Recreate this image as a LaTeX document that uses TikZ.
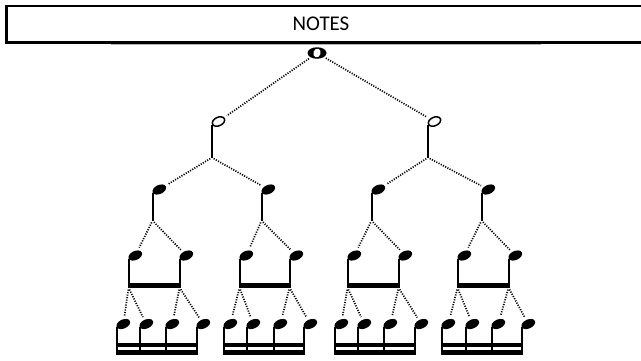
\documentclass[tikz,border=0pt]{standalone}
\usepackage{fontspec}
\newfontfamily\hdrfont{Carlito}
\usetikzlibrary{shapes.geometric}
\begin{document}
\begin{tikzpicture}[x=1bp,y=-1bp,
  head/.style={ellipse, fill=black, inner sep=0pt, minimum width=14.5bp, minimum height=9bp, rotate=25},
  hhead/.style={ellipse, draw=black, line width=1.5bp, fill=white, inner sep=0pt, minimum width=13bp, minimum height=8.5bp, rotate=25},
  stem/.style={line width=2bp},
  hstem/.style={line width=1.3bp},
  link/.style={line width=1.7bp, dash pattern=on 1.1bp off 1.4bp, shorten >=3bp, shorten <=2bp},
  titletext/.style={font=\hdrfont\fontsize{21}{24}\selectfont, inner sep=0pt}
]
\clip (0,0) rectangle (641,360);
\fill[white] (0,0) rectangle (641,360);

% header
\draw[line width=2.2bp] (6.5,6) rectangle (660,42.5);
\node[titletext] (title) at (321,24) {NOTES};
\draw[gray!60, line width=1bp] (111,44.2) -- (541,44.2);

% whole note
\node[ellipse, fill=black, inner sep=0pt, minimum width=19bp, minimum height=11.5bp] (w) at (317,53) {};
\fill[white, rotate around={-20:(w)}] (w) ellipse [x radius=3.6bp, y radius=4.4bp];

% half notes
\node[hhead] (h1) at (218.5,121.5) {};
\node[hhead] (h2) at (434.5,121.5) {};
\draw[hstem] (h1.west) -- ++(0,33) coordinate (hb1);
\draw[hstem] (h2.west) -- ++(0,33) coordinate (hb2);

% quarter notes
\foreach \i/\s in {1/153,2/262,3/372,4/482} {
  \node[head] (q\i) at (\s+6.3,189.5) {};
  \draw[stem] (q\i.west) -- ++(0,28) coordinate (qb\i);
}

% eighth notes
\foreach \g/\a/\b in {1/129/180, 2/240/290, 3/348/399, 4/458/509} {
  \node[head] (e\g1) at (\a+6.3,255.5) {};
  \node[head] (e\g2) at (\b+6.3,255.5) {};
  \draw[stem] (e\g1.west) -- ++(0,29) coordinate (eb\g1);
  \draw[stem] (e\g2.west) -- ++(0,29) coordinate (eb\g2);
  \fill (\a-1,283) rectangle (\b+1,287.5);
}

% sixteenth notes
\foreach \g/\a/\b/\c/\d in {1/117/140/166/197, 2/224/247/274/304, 3/335/358/384/415, 4/442/466/492/522} {
  \foreach \k/\s in {1/\a,2/\b,3/\c,4/\d} {
    \node[head] (s\g\k) at (\s+6.3,324) {};
    \draw[stem] (s\g\k.west) -- ++(0,28);
  }
  \fill (\a-1,342.5) rectangle (\d+1,346.5);
  \fill (\a-1,349.5) rectangle (\d+1,354.5);
}

% connectors
\draw[link] (w) -- (h1);
\draw[link] (w) -- (h2);
\draw[link] (hb1) -- (q1);
\draw[link] (hb1) -- (q2);
\draw[link] (hb2) -- (q3);
\draw[link] (hb2) -- (q4);
\foreach \g in {1,2,3,4} {
  \draw[link] (qb\g) -- (e\g1);
  \draw[link] (qb\g) -- (e\g2);
  \draw[link] (eb\g1) -- (s\g1);
  \draw[link] (eb\g1) -- (s\g2);
  \draw[link] (eb\g2) -- (s\g3);
  \draw[link] (eb\g2) -- (s\g4);
}
\end{tikzpicture}
\end{document}
